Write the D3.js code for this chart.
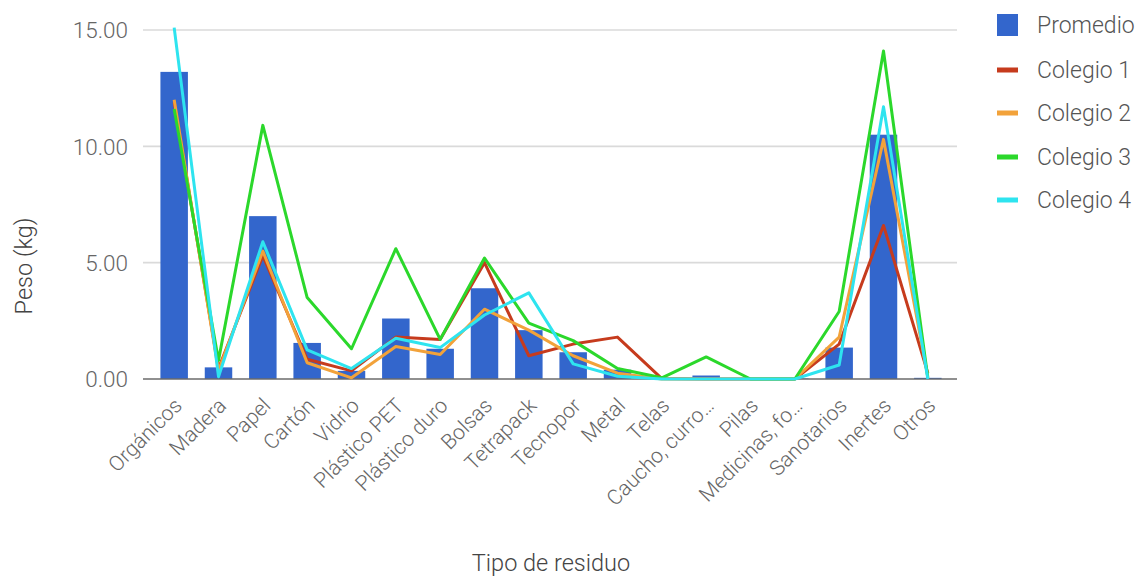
<!DOCTYPE html>
<html>
<head>
<meta charset="utf-8">
<script src="https://cdn.jsdelivr.net/npm/d3@7"></script>
<style>
  html, body { margin: 0; padding: 0; background: #fff; }
  svg { display: block; font-family: Roboto, "Noto Sans", Arial, sans-serif; font-weight: 300; }
</style>
</head>
<body>
<svg id="chart" width="1147" height="578"></svg>
<script>
const categories = ["Orgánicos","Madera","Papel","Cartón","Vidrio","Plástico PET","Plástico duro","Bolsas","Tetrapack","Tecnopor","Metal","Telas","Caucho, curro…","Pilas","Medicinas, fo…","Sanotarios","Inertes","Otros"];
const promedio = [13.2, 0.5, 7.0, 1.55, 0.35, 2.6, 1.3, 3.9, 2.1, 1.15, 0.4, 0.02, 0.15, 0, 0.02, 1.35, 10.5, 0.05];
const colegio1 = [11.9, 0.45, 5.3, 0.85, 0.35, 1.8, 1.7, 5.0, 1.0, 1.5, 1.8, 0.02, 0, 0, 0, 1.5, 6.6, 0.25];
const colegio2 = [12.0, 0.35, 5.5, 0.7, 0.05, 1.4, 1.05, 3.0, 2.1, 1.0, 0.25, 0, 0, 0, 0, 1.8, 10.3, 0.1];
const colegio3 = [11.6, 0.8, 10.9, 3.5, 1.3, 5.6, 1.7, 5.2, 2.4, 1.65, 0.45, 0.05, 0.95, 0, 0, 2.9, 14.1, 0.05];
const colegio4 = [15.1, 0.1, 5.9, 1.25, 0.45, 1.75, 1.35, 2.75, 3.7, 0.65, 0.12, 0, 0, 0, 0, 0.6, 11.7, 0];
const yTicks = [0, 5, 10, 15];
const seriesNames = ["Promedio", "Colegio 1", "Colegio 2", "Colegio 3", "Colegio 4"];
const colors = ["#3366cc", "#c63b1d", "#f2a23a", "#2bd82b", "#2ee4ef"];

const svg = d3.select("#chart");
const gridLeft = 143, gridRight = 957;

const x = d3.scaleBand().domain(categories).range([152, 950]).paddingInner(0.38).paddingOuter(0.19);
const y = d3.scaleLinear().domain([0, 15]).range([379, 30]);
const cx = c => x(c) + x.bandwidth() / 2;

// gridlines
svg.append("g").selectAll("line").data(yTicks.filter(t => t !== 0)).join("line")
  .attr("x1", gridLeft).attr("x2", gridRight)
  .attr("y1", d => y(d)).attr("y2", d => y(d))
  .attr("stroke", "#dadada").attr("stroke-width", 1.6);

// y axis labels
const yAxis = d3.axisLeft(y).tickValues(yTicks).tickFormat(d3.format(".2f")).tickSize(0).tickPadding(0);
const yg = svg.append("g").attr("transform", "translate(128,0)").call(yAxis);
yg.select(".domain").remove();
yg.selectAll("text").attr("font-size", 22.5).attr("fill", "#666").attr("dy", "0.35em")
  .attr("font-family", "Roboto, Arial, sans-serif").attr("font-weight", 300);

// bars
svg.append("g").selectAll("rect").data(categories).join("rect")
  .attr("x", d => x(d))
  .attr("width", x.bandwidth())
  .attr("y", (d, i) => y(promedio[i]))
  .attr("height", (d, i) => y(0) - y(promedio[i]))
  .attr("fill", colors[0]);

// baseline
svg.append("line").attr("x1", gridLeft).attr("x2", gridRight)
  .attr("y1", y(0)).attr("y2", y(0)).attr("stroke", "#6b6b6b").attr("stroke-width", 1.6);

// lines
const lineGen = d3.line().x((d, i) => cx(categories[i])).y(d => y(d));
[colegio1, colegio2, colegio3, colegio4].forEach((s, k) => {
  svg.append("path").datum(s).attr("d", lineGen)
    .attr("fill", "none").attr("stroke", colors[k + 1])
    .attr("stroke-width", 3).attr("stroke-linejoin", "round");
});

// x labels
const xAxis = d3.axisBottom(x).tickSize(0).tickPadding(0);
const xg = svg.append("g").call(xAxis);
xg.select(".domain").remove();
xg.selectAll(".tick").attr("transform", d => `translate(${cx(d) + 9},407)`);
xg.selectAll(".tick text")
  .attr("x", 0).attr("y", 0).attr("dy", 0)
  .attr("text-anchor", "end")
  .attr("transform", "rotate(-45)")
  .attr("font-size", 21).attr("fill", "#666")
  .attr("font-family", "Roboto, Arial, sans-serif").attr("font-weight", 300);

// axis titles
svg.append("text").attr("x", 551).attr("y", 571).attr("text-anchor", "middle")
  .attr("font-size", 23.5).attr("fill", "#444").text("Tipo de residuo");
svg.append("text").attr("transform", "translate(32,266) rotate(-90)").attr("text-anchor", "middle")
  .attr("font-size", 23.5).attr("fill", "#444").text("Peso (kg)");

// legend
const legY = [25, 70, 113, 157, 200];
const leg = svg.append("g").selectAll("g").data(seriesNames).join("g")
  .attr("transform", (d, i) => `translate(997,${legY[i]})`);
leg.each(function(d, i) {
  const g = d3.select(this);
  if (i === 0) {
    g.append("rect").attr("x", 0).attr("y", -11).attr("width", 21).attr("height", 22).attr("fill", colors[0]);
  } else {
    g.append("rect").attr("x", 0).attr("y", -2.5).attr("width", 21).attr("height", 5).attr("fill", colors[i]);
  }
  g.append("text").attr("x", 40).attr("y", 0).attr("dy", "0.35em")
    .attr("font-size", 23).attr("fill", "#555").text(d);
});
</script>
</body>
</html>
